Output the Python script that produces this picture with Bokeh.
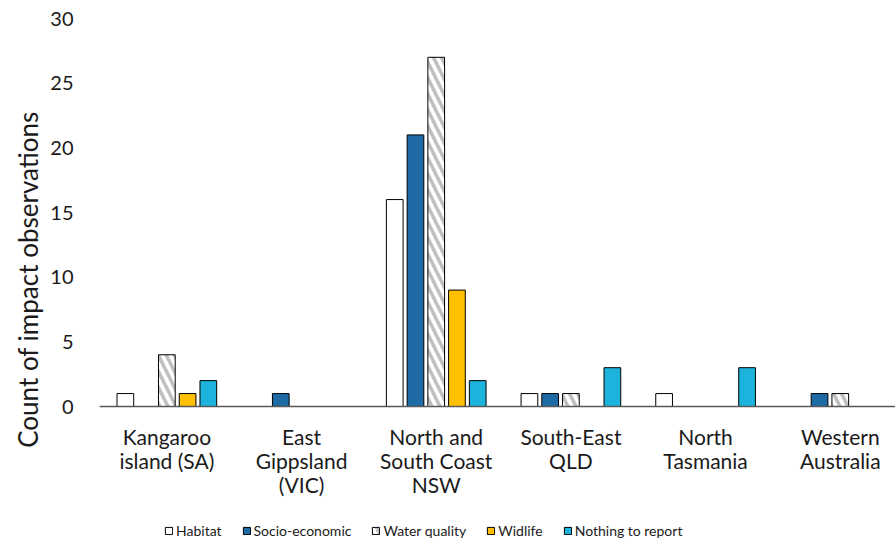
import numpy as np
from bokeh.plotting import figure
from bokeh.models import Range1d, FixedTicker, Legend, LegendItem, ColumnDataSource, Span
from bokeh.core.properties import value
from bokeh.embed import file_html
from bokeh.resources import INLINE

categories = ["Kangaroo island (SA)", "East Gippsland (VIC)", "North and South Coast NSW",
              "South-East QLD", "North Tasmania", "Western Australia"]
category_labels = ["Kangaroo\nisland (SA)", "East\nGippsland\n(VIC)", "North and\nSouth Coast\nNSW",
                   "South-East\nQLD", "North\nTasmania", "Western\nAustralia"]
series = ["Habitat", "Socio-economic", "Water quality", "Widlife", "Nothing to report"]
habitat = [1, 0, 16, 1, 1, 0]
socio_economic = [0, 1, 21, 1, 0, 1]
water_quality = [4, 0, 27, 1, 0, 1]
wildlife = [1, 0, 9, 0, 0, 0]
nothing_to_report = [2, 0, 2, 3, 3, 0]
y_ticks = [0, 5, 10, 15, 20, 25, 30]

values = [habitat, socio_economic, water_quality, wildlife, nothing_to_report]
colors = ["#FFFFFF", "#1F6BA5", "#FFFFFF", "#FFC000", "#1CB4DD"]
hatches = [None, None, "\\", None, None]

FONT = "Lato"
TXT = "#1a1a1a"

# layout: plotting area 388px tall for 0..30, 134px extra below for labels + legend
PLOT_H = 388
BELOW_H = 134
y_max = max(y_ticks)
y_min = -y_max * BELOW_H / PLOT_H

p = figure(frame_width=796, frame_height=PLOT_H + BELOW_H, output_backend="svg",
           toolbar_location=None,
           x_range=Range1d(0, 5.91), y_range=Range1d(y_min, y_max),
           min_border_left=99, min_border_right=0, min_border_top=18, min_border_bottom=0,
           outline_line_color=None)
p.xgrid.visible = False
p.ygrid.visible = False
p.xaxis.visible = False

pitch = 0.154
width = 0.124
base = np.arange(len(categories)) + 0.5
items = []
for i, (name, vals, col, h) in enumerate(zip(series, values, colors, hatches)):
    src = ColumnDataSource(dict(x=base + (i - 2) * pitch, top=vals))
    kw = dict(x="x", top="top", width=width, bottom=0, source=src,
              fill_color=col, line_color="#000000", line_width=1)
    if h:
        kw.update(hatch_pattern=h, hatch_color="#BFBFBF", hatch_weight=3.5, hatch_scale=16)
    r = p.vbar(**kw)
    items.append(LegendItem(label=name, renderers=[r]))

# category axis line and labels
p.add_layout(Span(location=0, dimension="width", line_color="#595959", line_width=1.5))
lab_src = ColumnDataSource(dict(x=base, y=np.zeros(len(base)), text=category_labels))
p.text(x="x", y="y", text="text", source=lab_src, text_align="center", text_baseline="top",
       y_offset=17, text_font=value(FONT), text_font_size=value("21px"),
       text_color=TXT, text_line_height=0.96)

p.yaxis.ticker = FixedTicker(ticks=y_ticks)
p.yaxis.axis_line_color = None
p.yaxis.major_tick_line_color = None
p.yaxis.minor_tick_line_color = None
p.yaxis.major_label_text_font = FONT
p.yaxis.major_label_text_font_size = "20px"
p.yaxis.major_label_text_color = TXT
p.yaxis.major_label_standoff = 20
p.yaxis.axis_label = "Count of impact observations"
p.yaxis.axis_label_text_font = FONT
p.yaxis.axis_label_text_font_size = "26px"
p.yaxis.axis_label_text_font_style = "normal"
p.yaxis.axis_label_text_color = TXT
p.yaxis.axis_label_standoff = 3

legend = Legend(items=items, orientation="horizontal", location=(65, 1),
                label_text_font=FONT, label_text_font_size="14px", label_text_color=TXT,
                glyph_width=9, glyph_height=9, label_standoff=3, spacing=20,
                border_line_color=None, background_fill_alpha=0,
                padding=0, margin=0, label_height=14)
p.add_layout(legend, "center")

open("out.html", "w").write(file_html(p, INLINE))
